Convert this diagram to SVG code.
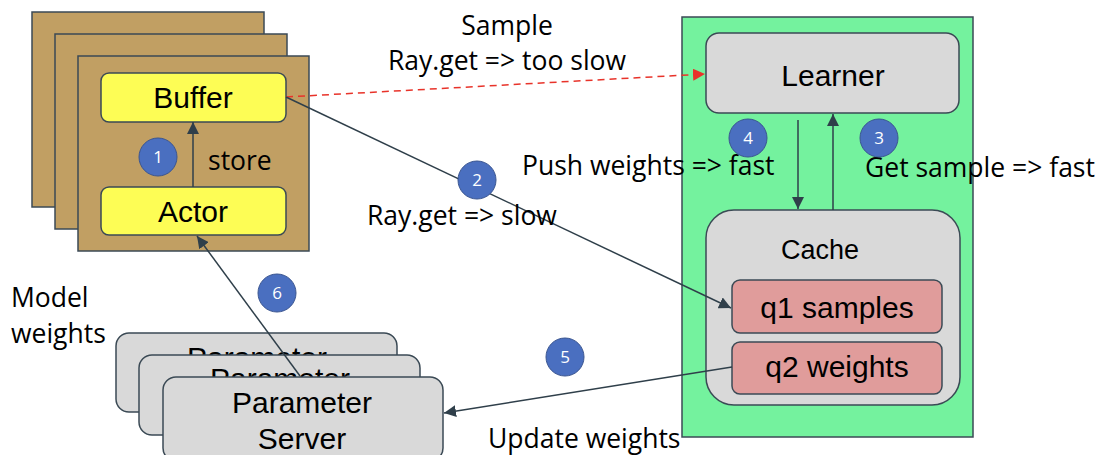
<svg xmlns="http://www.w3.org/2000/svg" width="1102" height="455" viewBox="0 0 1102 455">
<defs>
<style>
.tan{fill:#c19f63;stroke:#3b4a55;stroke-width:1.5}
.yel{fill:#fdfd55;stroke:#3b4a55;stroke-width:1.5}
.gry{fill:#d9d9d9;stroke:#3b4a55;stroke-width:1.5}
.grn{fill:#74f29e;stroke:#3b4a55;stroke-width:1.5}
.pnk{fill:#e09c9b;stroke:#3b4a55;stroke-width:1.5}
.ar{font-family:"Liberation Sans",Arial,sans-serif;fill:#000;text-anchor:middle;font-size:30px}
.cb{font-family:"Open Sans",sans-serif;fill:#000;font-size:26.5px}
.num circle{fill:#4a6fc0;stroke:#3a5590;stroke-width:1}
.num text{font-family:"Open Sans",sans-serif;font-size:17px;fill:#fff;text-anchor:middle}
.ln{stroke:#2f3f4a;stroke-width:1.5;fill:none}
</style>
<marker id="ah" viewBox="0 0 10 10" refX="10" refY="5" markerWidth="12" markerHeight="12" markerUnits="userSpaceOnUse" orient="auto"><path d="M0,0 L10,5 L0,10 z" fill="#2f3f4a"/></marker>
<marker id="ahr" viewBox="0 0 10 10" refX="10" refY="5" markerWidth="12" markerHeight="12" markerUnits="userSpaceOnUse" orient="auto"><path d="M0,0 L10,5 L0,10 z" fill="#e8332a"/></marker>
</defs>

<g id="actor-stack">
<rect class="tan" x="32" y="12" width="232" height="195"/>
<rect class="tan" x="55" y="34" width="232" height="195"/>
<rect class="tan" x="78" y="56" width="231" height="195"/>
</g>
<g id="buffer">
<rect class="yel" x="101" y="73" width="185" height="49" rx="8"/>
<text class="ar" x="193" y="108">Buffer</text>
</g>
<g id="actor">
<rect class="yel" x="101" y="187" width="185" height="48" rx="8"/>
<text class="ar" x="193" y="222">Actor</text>
</g>

<g id="learner-box">
<rect class="grn" x="682" y="17" width="291" height="420"/>
</g>
<g id="learner">
<rect class="gry" x="706" y="33" width="253" height="80" rx="13"/>
<text class="ar" x="833" y="86">Learner</text>
</g>
<g id="cache">
<rect class="gry" x="706" y="210" width="254" height="195" rx="28"/>
<text class="ar" x="820" y="259" style="font-size:27px">Cache</text>
</g>
<g id="q1">
<rect class="pnk" x="732" y="280" width="210" height="53" rx="8"/>
<text class="ar" x="837" y="318">q1 samples</text>
</g>
<g id="q2">
<rect class="pnk" x="732" y="342" width="210" height="52" rx="8"/>
<text class="ar" x="837" y="377">q2 weights</text>
</g>

<g id="param-stack">
<rect class="gry" x="116" y="333" width="281" height="79" rx="13"/>
<text class="ar" x="257" y="368">Parameter</text>
<rect class="gry" x="139" y="355" width="281" height="80" rx="13"/>
<text class="ar" x="280" y="389">Parameter</text>
</g>
<g id="param-server">
<rect class="gry" x="163" y="377" width="280" height="84" rx="13"/>
<text class="ar" x="302" y="413">Parameter</text>
<text class="ar" x="302" y="449">Server</text>
</g>

<g id="connectors">
<line class="ln" x1="193" y1="187" x2="193" y2="122" marker-end="url(#ah)"/>
<line x1="286" y1="97" x2="705" y2="74" stroke="#e8332a" stroke-width="1.5" stroke-dasharray="7,5" marker-end="url(#ahr)"/>
<line class="ln" x1="286" y1="97" x2="731" y2="308" marker-end="url(#ah)"/>
<line class="ln" x1="798" y1="120" x2="798" y2="209" marker-end="url(#ah)"/>
<line class="ln" x1="833" y1="210" x2="833" y2="114" marker-end="url(#ah)"/>
<line class="ln" x1="732" y1="367" x2="444" y2="413" marker-end="url(#ah)"/>
<line class="ln" x1="300" y1="376" x2="197" y2="236" marker-end="url(#ah)"/>
</g>

<g id="labels">
<text class="cb" x="208" y="170">store</text>
<text class="cb" x="507" y="35" text-anchor="middle">Sample</text>
<text class="cb" x="507" y="70" text-anchor="middle">Ray.get =&gt; too slow</text>
<text class="cb" x="522" y="175">Push weights =&gt; fast</text>
<text class="cb" x="865" y="177">Get sample =&gt; fast</text>
<text class="cb" x="367" y="225">Ray.get =&gt; slow</text>
<text class="cb" x="11" y="307">Model</text>
<text class="cb" x="11" y="343">weights</text>
<text class="cb" x="488" y="448">Update weights</text>
</g>

<g id="badges" class="num">
<circle cx="158" cy="157" r="19"/><text x="158" y="163">1</text>
<circle cx="477" cy="180" r="19"/><text x="477" y="186">2</text>
<circle cx="879" cy="138" r="19"/><text x="879" y="144">3</text>
<circle cx="748" cy="138" r="19"/><text x="748" y="144">4</text>
<circle cx="565" cy="357" r="19"/><text x="565" y="363">5</text>
<circle cx="277" cy="293" r="19"/><text x="277" y="299">6</text>
</g>
</svg>
